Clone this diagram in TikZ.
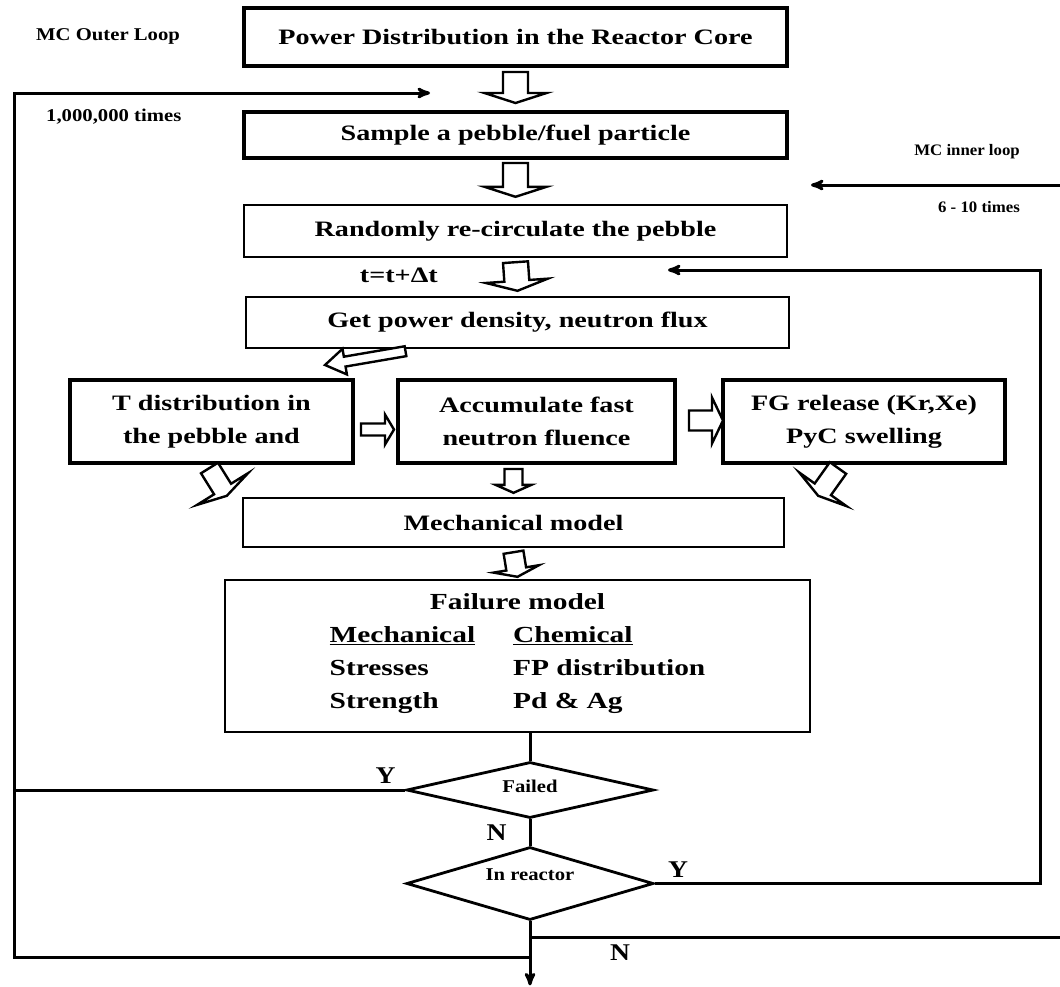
\documentclass[tikz,border=0pt]{standalone}
\usepackage{fontspec}
\setmainfont{Liberation Serif}[FakeStretch=1.28]
\newfontfamily\notefont{Liberation Serif}[FakeStretch=1.15]
\newfontfamily\smallnotefont{Liberation Serif}[FakeStretch=1.05]
\usetikzlibrary{arrows,shapes,positioning,calc}
\tikzset{
    stage/.style={
        rectangle,
        draw=black,
        line width=4pt,
        inner sep=0pt,
        align=center,
        font=\bfseries\fontsize{22}{33}\selectfont,
    },
    stage-thin/.style={
        stage,
        line width=2.4pt,
    },
    decision/.style={
        diamond,
        aspect=4,
        draw=black,
        line width=2.8pt,
        inner sep=0pt,
        font=\notefont\bfseries\fontsize{18}{20}\selectfont,
    },
    flow/.style={
        draw,
        line width=3pt,
        >=stealth',
    },
    note/.style={
        inner sep=0pt,
        font=\notefont\bfseries\fontsize{18}{20}\selectfont,
    },
    small-note/.style={
        inner sep=0pt,
        font=\smallnotefont\bfseries\fontsize{16}{18}\selectfont,
    },
    answer/.style={
        inner sep=0pt,
        font=\notefont\bfseries\fontsize{24}{26}\selectfont,
    },
    blockarr/.style={
        draw=black,
        line width=2.4pt,
        fill=white,
    },
}
% hollow block arrow: tail, tip, half shaft, half head, head length
\newcommand{\blockarrow}[5]{%
    \path (#1) coordinate (ba-tail) (#2) coordinate (ba-tip);
    \draw[blockarr] let \p1=($(ba-tip)-(ba-tail)$), \n1={atan2(\y1,\x1)} in
        ($(ba-tail)+(\n1+90:#3)$)
        -- ($(ba-tip)+(\n1+180:#5)+(\n1+90:#3)$)
        -- ($(ba-tip)+(\n1+180:#5)+(\n1+90:#4)$)
        -- (ba-tip)
        -- ($(ba-tip)+(\n1+180:#5)+(\n1-90:#4)$)
        -- ($(ba-tip)+(\n1+180:#5)+(\n1-90:#3)$)
        -- ($(ba-tail)+(\n1-90:#3)$) -- cycle;
}

\begin{document}
\begin{tikzpicture}[x=1pt,y=-1pt]
    \useasboundingbox (0,0) rectangle (1060,986);

    \node[stage, minimum width=543, minimum height=58] (core) at (515.5,37) {Power Distribution in the Reactor Core};
    \node[stage, minimum width=543, minimum height=46] (sample) at (515.5,135) {Sample a pebble/fuel particle};
    \node[stage-thin, minimum width=543, minimum height=52] (recirc) at (515.5,231) {Randomly re-circulate the pebble};
    \node[stage-thin, minimum width=543, minimum height=51] (power) at (517.5,322.5) {Get power density, neutron flux};
    \node[stage, minimum width=283, minimum height=83] (tdist) at (211.5,421.5) {T distribution in\\the pebble and};
    \node[stage, minimum width=277, minimum height=83] (fluence) at (536.5,421.5) {Accumulate fast\\neutron fluence};
    \node[stage, minimum width=282, minimum height=83] (fgrel) at (864,421.5) {FG release (Kr,Xe)\\PyC swelling};
    \node[stage-thin, minimum width=541, minimum height=49] (mech) at (513.5,522.5) {Mechanical model};
    \node[stage-thin, minimum width=585, minimum height=152, font=\bfseries\fontsize{23}{33}\selectfont] (failure) at (517.5,656) {Failure model\\
        \begin{tabular}[t]{@{}l@{\hspace{38pt}}l@{}}
            \underline{Mechanical} & \underline{Chemical}\\
            Stresses & FP distribution\\
            Strength & Pd \& Ag
        \end{tabular}};
    \node[decision, minimum width=247, minimum height=56, text depth=8pt] (failed) at (530,790) {Failed};
    \node[decision, minimum width=247, minimum height=73, text depth=18pt] (reactor) at (530,883.5) {In reactor};

    \node[note, anchor=west] (outer-label) at (36,36) {MC Outer Loop};
    \node[note, anchor=west] (outer-count) at (46,117) {1,000,000 times};
    \node[small-note, anchor=east] (inner-label) at (1020,152) {MC inner loop};
    \node[small-note, anchor=east] (inner-count) at (1020,207) {6 - 10 times};
    \node[anchor=east, inner sep=0pt, font=\bfseries\fontsize{22}{24}\selectfont] (dt) at (438,275) {t=t+Δt};

    \coordinate (outer-corner) at (14,93);
    \coordinate (outer-end) at (430,93);
    \coordinate (outer-bottom) at (14,957);
    \coordinate (inner-start) at (1060,185);
    \coordinate (inner-end) at (811,185);
    \coordinate (return-corner) at (1040,270);
    \coordinate (return-end) at (668,270);
    \coordinate (n-end) at (1060,937);
    \coordinate[below=64pt of reactor.south] (exit);

    % block arrows between the stages
    \blockarrow{$(core.south)+(0,4)$}{$(sample.north)+(0,-7)$}{12.5pt}{31pt}{10pt}
    \blockarrow{$(sample.south)+(0,3)$}{$(recirc.north)+(0,-7)$}{12.5pt}{31pt}{10pt}
    \blockarrow{$(recirc.south)+(0,4)$}{$(power.north)+(0,-5)$}{12.5pt}{31pt}{10pt}
    \blockarrow{$(power.south)+(-112,2)$}{$(tdist.north east)+(-30,-13)$}{5pt}{13pt}{20pt}
    \blockarrow{$(tdist.east)+(6,8)$}{$(fluence.west)+(-2,8)$}{6pt}{15pt}{9pt}
    \blockarrow{$(fluence.east)+(12,-1)$}{$(fgrel.west)+(2,-1)$}{10pt}{23pt}{11pt}
    \blockarrow{$(tdist.south)+(-2,3)$}{$(mech.north west)+(-15,-1)$}{10pt}{30pt}{8pt}
    \blockarrow{$(fgrel.south)+(-26,3)$}{$(mech.north east)+(33,-1)$}{10pt}{29pt}{8pt}
    \blockarrow{$(mech.north |- fluence.south)+(0,4)$}{$(mech.north)+(0,-4)$}{9pt}{18pt}{8pt}
    \blockarrow{$(mech.south)+(0,4)$}{$(failure.north)+(0,-2)$}{10pt}{23pt}{8pt}

    % decisions and loops
    \draw[flow] (failed.north |- failure.south) -- (failed.north);
    \draw[flow] (failed.south) -- node[answer, left=22pt]{N} (reactor.north);
    \draw[flow] (failed.west) -- node[answer, pos=0.05, above=5pt]{Y} (failed.west -| outer-corner);
    \draw[flow,->] (reactor.south |- outer-bottom) -- (outer-bottom) -- (outer-corner) -- (outer-end);
    \draw[flow,->] (reactor.south) -- (exit);
    \draw[flow] (reactor.south |- n-end) -- node[answer, pos=0.17, below=6pt]{N} (n-end);
    \draw[flow,->] (reactor.east) -- node[answer, pos=0.06, above=5pt]{Y} (reactor.east -| return-corner) -- (return-corner) -- (return-end);
    \draw[flow,->] (inner-start) -- (inner-end);
\end{tikzpicture}
\end{document}
